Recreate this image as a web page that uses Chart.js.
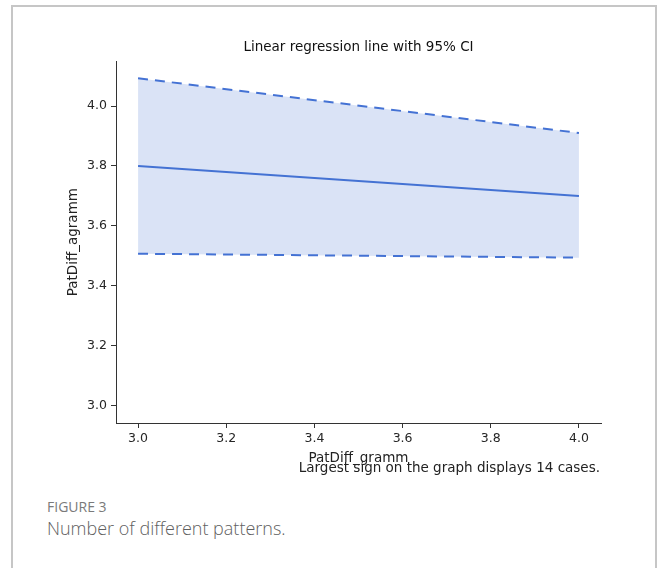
<!DOCTYPE html>
<html>
<head>
<meta charset="utf-8">
<script src="https://cdn.jsdelivr.net/npm/chart.js@4/dist/chart.umd.min.js"></script>
<style>
  body { margin: 0; background: #fff; width: 658px; height: 568px; overflow: hidden; position: relative; }
  .moldura { position: absolute; left: 11px; top: 5px; width: 642px; height: 600px; border: 2px solid #c6c6c6; border-bottom: none; }
  #grafico { position: absolute; left: 0; top: 0; }
  .fig-num { position: absolute; left: 47px; top: 497px; font: 400 14px "Open Sans", sans-serif; color: #7a7a7a; }
  .fig-legenda { position: absolute; left: 47px; top: 516px; font: 300 18px "Open Sans", sans-serif; color: #5f5f5f; }
</style>
</head>
<body>
<div class="moldura"></div>
<canvas id="grafico" width="658" height="480"></canvas>
<div class="fig-num">FIGURE 3</div>
<div class="fig-legenda">Number of different patterns.</div>
<script>
// Valores (PatDiff_gramm x PatDiff_agramm)
const eixoX = [3.0, 4.0];          // extremos da reta
const reta = [3.80, 3.70];         // reta de regressão
const icSuperior = [4.093, 3.91];  // limite superior do IC 95%
const icInferior = [3.507, 3.494]; // limite inferior do IC 95%

const ticksX = [3.0, 3.2, 3.4, 3.6, 3.8, 4.0];
const ticksY = [3.0, 3.2, 3.4, 3.6, 3.8, 4.0];

const titulo = 'Linear regression line with 95% CI';
const nota = 'Largest sign on the graph displays 14 cases.';

const azul = '#4472d4';
const fonte = 'DejaVu Sans';

const pontos = valores => eixoX.map((x, i) => ({ x: x, y: valores[i] }));

// Título centrado sobre a área dos eixos e nota de rodapé sob o eixo X
const textosExtras = {
  id: 'textosExtras',
  afterDraw(chart) {
    const { ctx, chartArea } = chart;
    ctx.save();
    ctx.font = '13.5px "' + fonte + '"';
    ctx.textBaseline = 'middle';
    ctx.fillStyle = '#111';
    ctx.textAlign = 'center';
    ctx.fillText(titulo, (chartArea.left + chartArea.right) / 2, chartArea.top - 14);
    ctx.fillStyle = '#222';
    ctx.textAlign = 'right';
    ctx.fillText(nota, chartArea.right - 1, chartArea.bottom + 45);
    ctx.restore();
  }
};

const ctx = document.getElementById('grafico').getContext('2d');
new Chart(ctx, {
  type: 'line',
  data: {
    datasets: [
      {
        label: 'IC superior',
        data: pontos(icSuperior),
        borderColor: azul,
        borderWidth: 2,
        borderDash: [10, 7],
        backgroundColor: 'rgba(68, 114, 212, 0.2)',
        fill: '+1',
        pointRadius: 0
      },
      {
        label: 'IC inferior',
        data: pontos(icInferior),
        borderColor: azul,
        borderWidth: 2,
        borderDash: [10, 7],
        fill: false,
        pointRadius: 0
      },
      {
        label: 'Regressão',
        data: pontos(reta),
        borderColor: azul,
        borderWidth: 2,
        fill: false,
        pointRadius: 0
      }
    ]
  },
  options: {
    responsive: false,
    animation: false,
    layout: { padding: { top: 61.4, left: 0, right: 57, bottom: 0 } },
    plugins: {
      legend: { display: false },
      tooltip: { enabled: false },
      title: { display: false }
    },
    scales: {
      x: {
        type: 'linear',
        min: 2.95,
        max: 4.05,
        afterFit: s => { s.height = 57; },
        afterBuildTicks: s => { s.ticks = ticksX.map(v => ({ value: v })); },
        ticks: {
          color: '#262626',
          font: { family: fonte, size: 12.5 },
          padding: 3,
          maxRotation: 0,
          callback: v => v.toFixed(1)
        },
        grid: { drawOnChartArea: false, drawTicks: true, tickLength: 5, color: '#333' },
        border: { display: true, color: '#333', width: 1 },
        title: {
          display: true,
          text: 'PatDiff_gramm',
          color: '#222',
          font: { family: fonte, size: 13.5 },
          padding: { top: 0, bottom: 13 }
        }
      },
      y: {
        min: 2.942,
        max: 4.149,
        afterFit: s => { s.width = 116; },
        afterBuildTicks: s => { s.ticks = ticksY.map(v => ({ value: v })); },
        ticks: {
          color: '#262626',
          font: { family: fonte, size: 12.5 },
          padding: 4,
          callback: v => v.toFixed(1)
        },
        grid: { drawOnChartArea: false, drawTicks: true, tickLength: 5, color: '#333' },
        border: { display: true, color: '#333', width: 1 },
        title: {
          display: true,
          text: 'PatDiff_agramm',
          color: '#222',
          font: { family: fonte, size: 13.5 },
          padding: { top: 65, bottom: 0 }
        }
      }
    }
  },
  plugins: [textosExtras]
});
</script>
</body>
</html>
